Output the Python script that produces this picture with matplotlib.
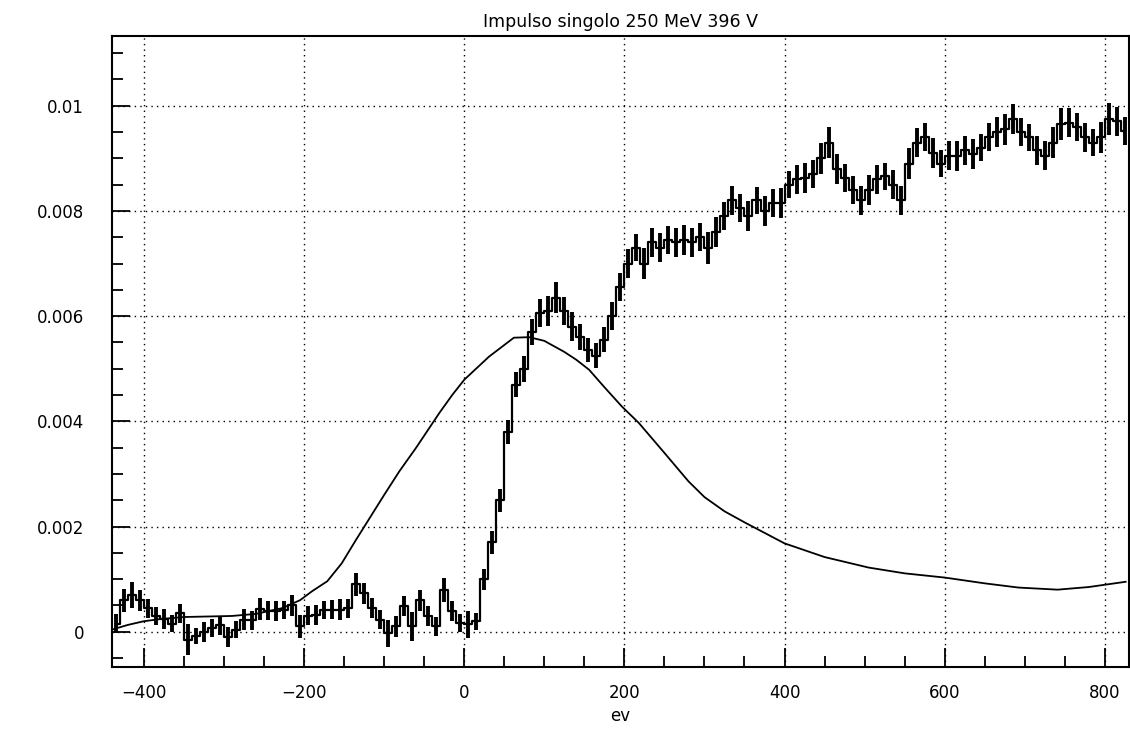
import numpy as np
import matplotlib.pyplot as plt
from matplotlib.ticker import MultipleLocator, FixedLocator, FixedFormatter

# istogramma: centri dei bin (10 eV) e contenuto in unita di 1e-4
bin_centri = np.arange(-435, 830, 10)
conteggi = [
    1.5, 6, 7, 6, 4.5, 3, 2.5, 1.5, 3.5, -1.5,
    -0.8, 0, 0.7, 1.2, -1, 0.4, 2.3, 2.2, 4.3, 4,
    4, 4.2, 5, 1, 3, 3.2, 4.2, 4.2, 4.2, 4.5,
    9, 7.3, 4.5, 2.3, -0.3, 1, 4.8, 1, 6, 3,
    1, 8, 4, 1.6, 1.4, 2, 10, 17, 25, 38,
    47, 50, 57, 60.6, 61, 63.5, 61, 58, 56, 53.6,
    52.5, 55.5, 60, 65.5, 70, 73, 70, 74, 73, 74.5,
    74, 74.5, 74, 75, 73, 76, 79, 82, 80.5, 79,
    82, 80, 81.5, 81.5, 85, 86, 86.3, 87, 90, 93,
    88, 86.3, 84, 82, 84, 86, 86.6, 85, 82, 89,
    93, 94, 91, 89, 90.5, 90.4, 91.5, 90.8, 92, 94,
    95, 95.5, 97.5, 95, 94, 91.5, 90.5, 93, 96.5, 96.8,
    96, 94, 93, 94, 97.5, 97, 95.2,
]
errori = [
    1.8, 2.2, 2.4, 2.0, 1.8, 1.7, 1.9, 1.6, 1.8, 3.0,
    1.6, 1.9, 1.7, 1.8, 1.9, 1.6, 2.0, 1.8, 2.1, 1.8,
    1.9, 1.7, 2.0, 2.2, 1.8, 1.9, 1.7, 1.8, 2.0, 1.8,
    2.2, 2.0, 1.9, 1.8, 2.6, 2.0, 1.9, 2.8, 2.0, 1.9,
    1.8, 2.3, 1.9, 1.7, 2.5, 1.6, 2.0, 2.2, 2.2, 2.3,
    2.3, 2.5, 2.4, 2.6, 2.8, 3.0, 2.6, 2.7, 2.5, 2.3,
    2.3, 2.4, 2.6, 2.7, 2.8, 2.6, 2.9, 2.7, 2.8, 2.6,
    2.7, 2.9, 2.8, 2.7, 3.0, 2.8, 2.6, 2.8, 2.7, 2.9,
    2.6, 2.8, 2.7, 2.9, 2.5, 2.7, 2.8, 2.6, 2.9, 3.0,
    2.8, 2.7, 2.6, 2.8, 2.9, 2.7, 2.6, 2.8, 2.7, 2.9,
    2.8, 2.7, 2.9, 2.6, 2.8, 2.9, 2.7, 2.8, 2.6, 2.7,
    2.8, 3.0, 2.9, 2.7, 2.6, 2.8, 2.7, 2.9, 3.0, 2.8,
    2.7, 2.8, 2.6, 2.9, 3.0, 2.8, 2.7,
]

# curva di risposta (unita 1e-4)
curva_x = [-440, -420, -400, -380, -350, -320, -290, -260, -227, -205, -190,
           -171, -153, -135, -100, -81, -60, -31, -15, 0, 31, 62, 81, 100,
           125, 140, 156, 175, 197, 218, 250, 280, 300, 325, 350, 400, 450, 505,
           550, 600, 650, 692, 741, 780, 826]
curva_y = [0.4, 1.3, 2.0, 2.4, 2.8, 2.9, 3.0, 3.4, 4.5, 6.0, 7.7,
           9.6, 13, 17.5, 26, 30.5, 35, 41.6, 45, 47.9, 52.3, 55.9, 56, 55.3,
           53.2, 51.7, 49.8, 46.5, 42.8, 39.7, 34, 28.6, 25.6, 22.9, 20.8, 16.8, 14.2, 12.2,
           11.1, 10.3, 9.2, 8.4, 8.0, 8.5, 9.5]

y = np.array(conteggi) * 1e-4
dy = np.array(errori) * 1e-4

fig = plt.figure(figsize=(11.3, 7.34), dpi=100)
ax = fig.add_axes([0.099, 0.0913, 0.9, 0.86])

ax.step(bin_centri, y, where='mid', color='black', lw=1.6)
ax.vlines(bin_centri, y - dy, y + dy, color='black', lw=2.8)
ax.plot(curva_x, np.array(curva_y) * 1e-4, color='black', lw=1.3)

ax.set_xlim(-440, 830)
ax.set_ylim(-0.00067, 0.01133)

ax.xaxis.set_major_locator(MultipleLocator(200))
ax.xaxis.set_minor_locator(MultipleLocator(50))
ax.yaxis.set_major_locator(FixedLocator([0, 0.002, 0.004, 0.006, 0.008, 0.01]))
ax.yaxis.set_major_formatter(FixedFormatter(['0', '0.002', '0.004', '0.006', '0.008', '0.01']))
ax.yaxis.set_minor_locator(MultipleLocator(0.0005))

ax.tick_params(axis='x', which='major', direction='in', length=14, width=1.3, pad=12, labelsize=12)
ax.tick_params(axis='x', which='minor', direction='in', length=8, width=1.3)
ax.tick_params(axis='y', which='major', direction='in', length=13, width=1.3, pad=20, labelsize=12)
ax.tick_params(axis='y', which='minor', direction='in', length=8, width=1.3)

ax.grid(True, which='major', color='black', linestyle=(0, (1, 3)), lw=1)
for s in ax.spines.values():
    s.set_linewidth(1.5)

ax.set_title('Impulso singolo 250 MeV 396 V', fontsize=12.5, pad=6)
ax.set_xlabel('ev', fontsize=12, labelpad=4)

fig.savefig('out.png', dpi=100)
